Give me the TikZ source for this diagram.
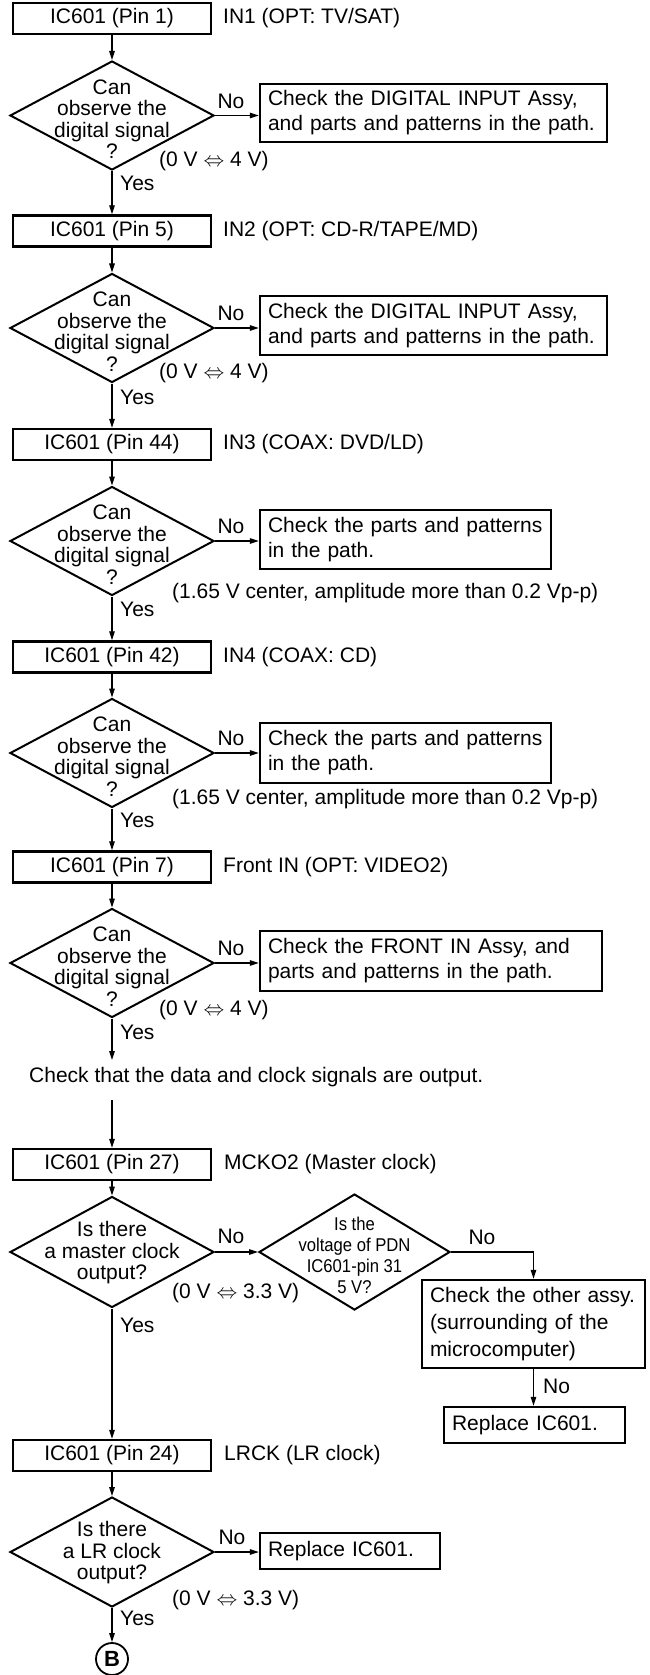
\documentclass[tikz,border=0pt]{standalone}
\usepackage{fontspec}
\setmainfont{Liberation Sans}
\newfontfamily\narrowsans[FakeStretch=0.9]{Liberation Sans}
\usetikzlibrary{shapes.geometric,arrows.meta}
\newcommand\fA{\fontsize{21}{25}\selectfont}
\newcommand\fD{\fontsize{21}{21.5}\selectfont}
\newcommand\fS{\narrowsans\fontsize{18.5}{21}\selectfont}
\begin{document}
\begin{tikzpicture}[x=1pt, y={(0pt,-1pt)},
  pinbox/.style={draw, line width=2.3pt, minimum width=198pt, minimum height=31pt, inner sep=0pt, font=\fA},
  chkbox/.style={draw, line width=2.3pt, inner xsep=8pt, inner ysep=0pt, align=left, font=\fA,
    execute at begin node={\hyphenpenalty=10000\exhyphenpenalty=10000}},
  dia/.style={draw, diamond, line width=2pt, inner sep=0pt, minimum width=204pt, minimum height=109pt},
  dtxt/.style={align=center, font=\fD, inner sep=0pt},
  lab/.style={anchor=west, font=\fA, inner sep=0pt},
  nolab/.style={font=\fA, inner sep=0pt},
  arr/.style={-{Triangle[length=9pt,width=5.5pt]}, line width=1.2pt}
]
\path[use as bounding box, fill=white] (0,0) rectangle (650,1675);

% ---- block 1
\node[pinbox] (b1) at (112,18.5) {IC601 (Pin 1)};
\node[lab] (l1) at (223,18.5) {IN1 (OPT: TV/SAT)};
\node[dia] (d1) at (112,115.5) {};
\node[dtxt] (t1) at (112,119) {Can\\observe the\\digital signal\\?};
\node[chkbox, text width=331pt, minimum height=58pt] (c1) at (433.5,113) {Check the DIGITAL INPUT Assy,\\and parts and patterns in the path.};
\node[nolab] (n1) at (231,101) {No};
\node[lab] (v1) at (159,161) {(0 V $\Leftrightarrow$ 4 V)};
\node[lab] (y1) at (120,183) {Yes};

% ---- block 2
\node[pinbox] (b2) at (112,231) {IC601 (Pin 5)};
\node[lab] (l2) at (223,231) {IN2 (OPT: CD-R/TAPE/MD)};
\node[dia] (d2) at (112,328) {};
\node[dtxt] (t2) at (112,331.5) {Can\\observe the\\digital signal\\?};
\node[chkbox, text width=331pt, minimum height=59pt] (c2) at (433.5,325.5) {Check the DIGITAL INPUT Assy,\\and parts and patterns in the path.};
\node[nolab] (n2) at (231,313) {No};
\node[lab] (v2) at (159,373) {(0 V $\Leftrightarrow$ 4 V)};
\node[lab] (y2) at (120,397) {Yes};

% ---- block 3
\node[pinbox] (b3) at (112,444.5) {IC601 (Pin 44)};
\node[lab] (l3) at (223,444.5) {IN3 (COAX: DVD/LD)};
\node[dia] (d3) at (112,541) {};
\node[dtxt] (t3) at (112,544.5) {Can\\observe the\\digital signal\\?};
\node[chkbox, text width=275pt, minimum height=59pt] (c3) at (405.5,539.5) {Check the parts and patterns\\in the path.};
\node[nolab] (n3) at (231,526) {No};
\node[lab] (v3) at (172,593) {(1.65 V center, amplitude more than 0.2 Vp-p)};
\node[lab] (y3) at (120,609) {Yes};

% ---- block 4
\node[pinbox] (b4) at (112,657) {IC601 (Pin 42)};
\node[lab] (l4) at (223,657) {IN4 (COAX: CD)};
\node[dia] (d4) at (112,753) {};
\node[dtxt] (t4) at (112,756.5) {Can\\observe the\\digital signal\\?};
\node[chkbox, text width=275pt, minimum height=60pt] (c4) at (405.5,753) {Check the parts and patterns\\in the path.};
\node[nolab] (n4) at (231,738) {No};
\node[lab] (v4) at (172,799) {(1.65 V center, amplitude more than 0.2 Vp-p)};
\node[lab] (y4) at (120,820) {Yes};

% ---- block 5
\node[pinbox] (b5) at (112,867) {IC601 (Pin 7)};
\node[lab] (l5) at (223,867) {Front IN (OPT: VIDEO2)};
\node[dia] (d5) at (112,963) {};
\node[dtxt] (t5) at (112,966.5) {Can\\observe the\\digital signal\\?};
\node[chkbox, text width=326pt, minimum height=60pt] (c5) at (431,961) {Check the FRONT IN Assy, and\\parts and patterns in the path.};
\node[nolab] (n5) at (231,948) {No};
\node[lab] (v5) at (159,1010) {(0 V $\Leftrightarrow$ 4 V)};
\node[lab] (y5) at (120,1032) {Yes};
\coordinate (e5) at (112,1060);
\node[lab] (note) at (29,1077) {Check that the data and clock signals are output.};
\coordinate (s6) at (112,1100);

% ---- block 6
\node[pinbox] (b6) at (112,1164.5) {IC601 (Pin 27)};
\node[lab] (l6) at (224,1164.5) {MCKO2 (Master clock)};
\node[dia, minimum height=111pt] (d6) at (112,1252) {};
\node[dtxt] (t6) at (112,1253) {Is there\\a master clock\\output?};
\node[nolab] (n6) at (231,1236) {No};
\node[dia, minimum width=191pt, minimum height=116pt] (d7) at (354.5,1252) {};
\node[dtxt, font=\fS] (t7) at (354.5,1255) {Is the\\voltage of PDN\\IC601-pin 31\\5 V?};
\node[nolab] (n7) at (482,1237) {No};
\node[chkbox, text width=207pt, minimum height=88pt, font=\fontsize{21}{27}\selectfont] (c6) at (533.5,1324) {Check the other assy.\\(surrounding of the\\microcomputer)};
\node[lab] (v6) at (172,1293) {(0 V $\Leftrightarrow$ 3.3 V)};
\node[lab] (y6) at (120,1325) {Yes};
\node[chkbox, text width=165pt, minimum height=36pt] (r1) at (534.5,1425) {Replace IC601.};
\node[lab] (n8) at (543,1386) {No};

% ---- block 7
\node[pinbox] (b7) at (112,1455.5) {IC601 (Pin 24)};
\node[lab] (l7) at (224,1455.5) {LRCK (LR clock)};
\node[dia, minimum height=110pt] (d8) at (112,1552) {};
\node[dtxt] (t8) at (112,1553) {Is there\\a LR clock\\output?};
\node[nolab] (n9) at (232,1537) {No};
\node[chkbox, text width=164pt, minimum height=36pt] (r2) at (350,1551) {Replace IC601.};
\node[lab] (v7) at (172,1600) {(0 V $\Leftrightarrow$ 3.3 V)};
\node[lab] (y7) at (120,1618) {Yes};
\node[draw, circle, line width=1.8pt, minimum size=32pt, inner sep=0pt, font=\fontsize{22}{22}\selectfont\bfseries] (B) at (112,1659) {B};

% ---- connectors
\draw[arr] (b1) -- (d1);
\draw[arr] (d1.east) -- (d1.east -| c1.west);
\draw[arr] (d1) -- (b2);
\draw[arr] (b2) -- (d2);
\draw[arr] (d2.east) -- (d2.east -| c2.west);
\draw[arr] (d2) -- (b3);
\draw[arr] (b3) -- (d3);
\draw[arr] (d3.east) -- (d3.east -| c3.west);
\draw[arr] (d3) -- (b4);
\draw[arr] (b4) -- (d4);
\draw[arr] (d4.east) -- (d4.east -| c4.west);
\draw[arr] (d4) -- (b5);
\draw[arr] (b5) -- (d5);
\draw[arr] (d5.east) -- (d5.east -| c5.west);
\draw[arr] (d5.south) -- (e5);
\draw[arr] (s6) -- (b6);
\draw[arr] (b6) -- (d6);
\draw[arr] (d6.east) -- (d7.west);
\draw[arr] (d7.east) -| (c6.north);
\draw[arr] (c6.south) -- (c6.south |- r1.north);
\draw[arr] (d6) -- (b7);
\draw[arr] (b7) -- (d8);
\draw[arr] (d8.east) -- (d8.east -| r2.west);
\draw[arr] (d8) -- (B);
\end{tikzpicture}
\end{document}
